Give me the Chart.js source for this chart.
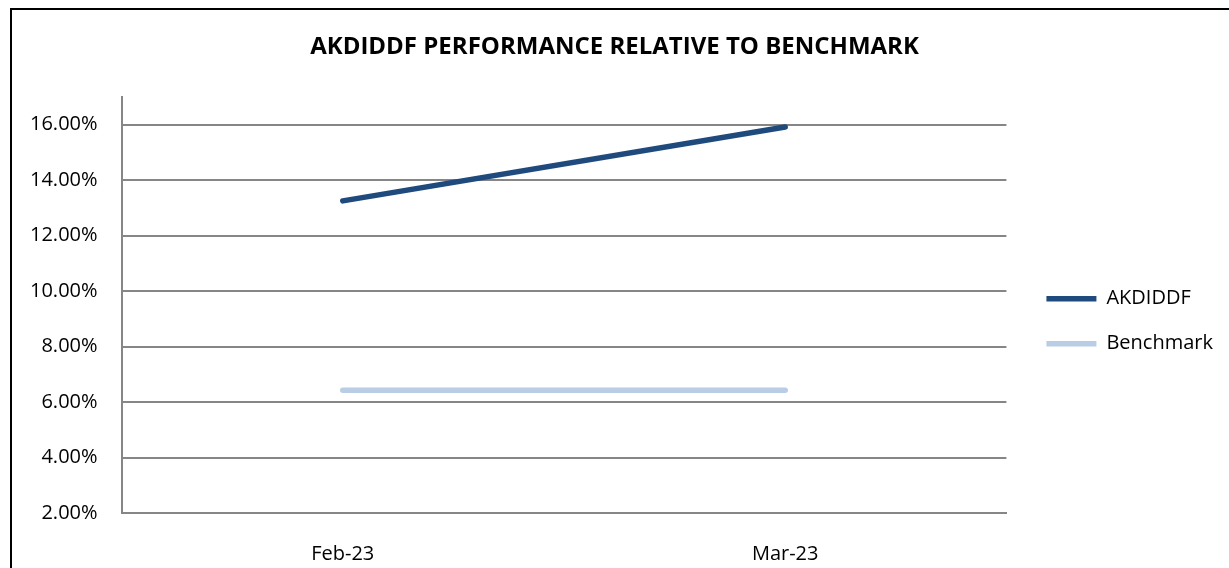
<!DOCTYPE html>
<html>
<head>
<meta charset="utf-8">
<script src="https://cdn.jsdelivr.net/npm/chart.js@4"></script>
<style>
  html, body { margin: 0; padding: 0; background: #fff; }
  body { width: 1229px; height: 568px; position: relative; overflow: hidden; }
  #frame { position: absolute; left: 10px; top: 8px; width: 1230px; height: 600px; border: 2px solid #000; }
  #wrap { position: absolute; left: 0; top: 0; width: 1229px; height: 568px; }
</style>
</head>
<body>
<div id="frame"></div>
<div id="wrap"><canvas id="perfChart"></canvas></div>
<script>
// values (percent)
const months = ["Feb-23", "Mar-23"];
const fundReturns = [13.25, 15.91];
const benchmarkReturns = [6.42, 6.42];
const yMin = 2;
const yMax = 17;
const yStep = 2;

const FONT = "'Open Sans', 'Liberation Sans', sans-serif";
const GRID = "#868686";

const ctx = document.getElementById("perfChart").getContext("2d");
const perfChart = new Chart(ctx, {
  type: "line",
  data: {
    labels: months,
    datasets: [
      {
        label: "AKDIDDF",
        data: fundReturns,
        borderColor: "#1f4a7d",
        backgroundColor: "#1f4a7d",
        borderWidth: 5.5,
        borderCapStyle: "round",
        pointRadius: 0,
        tension: 0,
      },
      {
        label: "Benchmark",
        data: benchmarkReturns,
        borderColor: "#b9cde5",
        backgroundColor: "#b9cde5",
        borderWidth: 5.5,
        borderCapStyle: "round",
        pointRadius: 0,
        tension: 0,
      },
    ],
  },
  options: {
    responsive: true,
    maintainAspectRatio: false,
    animation: false,
    layout: { padding: { left: 6, right: 6, top: 10, bottom: 0 } },
    plugins: {
      title: {
        display: true,
        text: "AKDIDDF PERFORMANCE RELATIVE TO BENCHMARK",
        color: "#000",
        font: { family: FONT, size: 24, weight: "bold" },
        padding: { top: 23, bottom: 35 },
      },
      legend: {
        position: "right",
        // empty title only pushes the items down a bit
        title: { display: true, text: "", font: { size: 12 }, padding: { top: 0, bottom: 50 } },
        labels: {
          color: "#000",
          font: { family: FONT, size: 20 },
          usePointStyle: true,
          pointStyle: "line",
          pointStyleWidth: 50,
          padding: 25,
        },
      },
      tooltip: { enabled: false },
    },
    scales: {
      x: {
        offset: true,
        grid: { display: false, drawTicks: false },
        border: { display: true, color: GRID, width: 2 },
        ticks: { color: "#000", font: { family: FONT, size: 20 }, padding: 29 },
        afterFit: (scale) => { scale.height = 55; },
      },
      y: {
        min: yMin,
        max: yMax,
        afterBuildTicks: (scale) => {
          scale.ticks = scale.ticks.filter((t) => t.value % yStep === 0);
        },
        ticks: {
          stepSize: yStep,
          color: "#000",
          font: { family: FONT, size: 20 },
          padding: 24,
          callback: (v) => v.toFixed(2) + "%",
        },
        grid: { color: GRID, lineWidth: 2, drawTicks: false },
        border: { display: true, color: GRID, width: 2 },
      },
      // blank spacer between plot and legend
      gap: {
        type: "linear",
        position: "right",
        grid: { display: false, drawTicks: false },
        border: { display: false },
        ticks: { display: false },
        afterFit: (scale) => { scale.width = 15; },
      },
    },
  },
});
</script>
</body>
</html>
